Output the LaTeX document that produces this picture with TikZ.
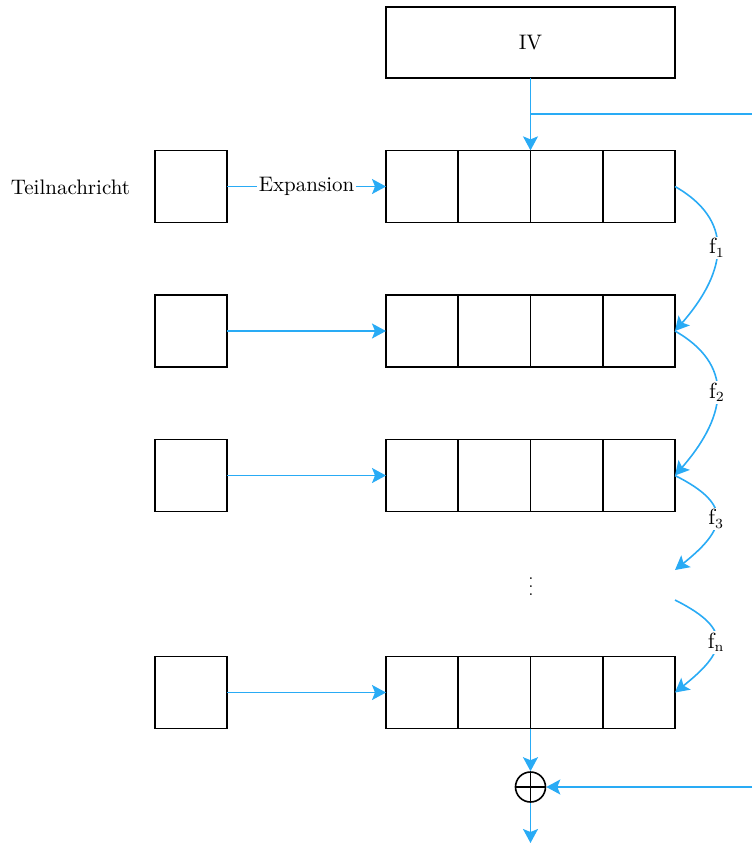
\documentclass[tikz,border=0pt]{standalone}
\usetikzlibrary{arrows.meta,calc}
\definecolor{flow}{RGB}{41,171,245}
\begin{document}
\begin{tikzpicture}[x=0.5pt,y=-0.5pt,
  every node/.style={font=\fontsize{10.5}{12.6}\selectfont},
  cell/.style={draw=black, line width=0.8pt, minimum size=36.125pt, inner sep=0pt, outer sep=0pt},
  flowline/.style={draw=flow, line width=0.8pt},
  flowarrow/.style={flowline, -{Stealth[length=7pt,width=7.5pt,inset=1.5pt]}},
  lbl/.style={fill=white, inner sep=1pt}]
\useasboundingbox (0,0) rectangle (752,843);

% initial value block
\node[cell, minimum width=144.5pt, minimum height=35.5pt] (iv) at (530.5,42.5) {IV};

% message parts and state registers
\foreach \r/\y in {1/186.5,2/331,3/475.5,4/692.5} {
  \node[cell] (l\r) at (191,\y) {};
  \foreach \c in {1,...,4}
    \node[cell] (r\r-\c) at ({386+72.25*(\c-0.5)},\y) {};
}
\node (tn) at (70.5,187) {Teilnachricht};

% expansion arrows
\draw[flowarrow] (l1.east) -- node[lbl] {Expansion} (r1-1.west);
\foreach \r in {2,3,4}
  \draw[flowarrow] (l\r.east) -- (r\r-1.west);

% IV feed and branch to the right
\draw[flowarrow] (iv.south) -- (r1-2.north east);
\coordinate (ivj) at ($(iv.south)!0.5!(r1-2.north east)$);
\coordinate (ivr) at (752,0);
\draw[flowline] (ivj) -- (ivj -| ivr);

% round functions
\coordinate (d3) at (675,570);
\coordinate (d4) at (675,600);
\node[font=\footnotesize, inner sep=0pt] (dots) at (531,581) {$\vdots$};
\draw[flowarrow] (r1-4.east) .. controls +(58,33) and +(54,-62) .. (r2-4.east)
  node[lbl, pos=0.5] {$\mathrm{f}_1$};
\draw[flowarrow] (r2-4.east) .. controls +(58,33) and +(54,-62) .. (r3-4.east)
  node[lbl, pos=0.5] {$\mathrm{f}_2$};
\draw[flowarrow] (r3-4.east) .. controls +(60,30) and +(50,-40) .. (d3)
  node[lbl, pos=0.5] {$\mathrm{f}_3$};
\draw[flowarrow] (d4) .. controls +(60,30) and +(50,-40) .. (r4-4.east)
  node[lbl, pos=0.5] {$\mathrm{f}_\mathrm{n}$};

% final combination
\node[circle, draw, line width=0.8pt, minimum size=15pt, inner sep=0pt] (xor) at (530.5,787) {};
\draw[line width=0.8pt] (xor.north) -- (xor.south) (xor.west) -- (xor.east);
\draw[flowarrow] (r4-2.south east) -- (xor.north);
\coordinate (kin) at (752,787);
\draw[flowarrow] (kin) -- (xor.east);
\coordinate (out) at (530.5,843);
\draw[flowarrow] (xor.south) -- (out);
\end{tikzpicture}
\end{document}
